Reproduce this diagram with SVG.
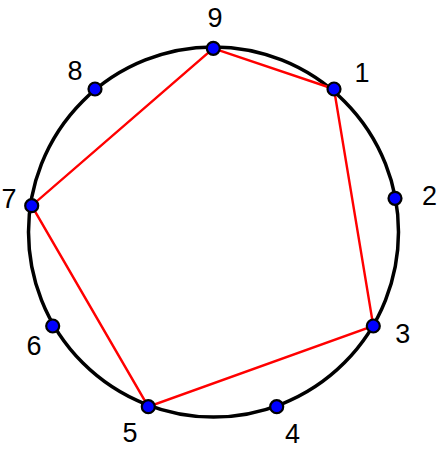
<svg xmlns="http://www.w3.org/2000/svg" width="438" height="452" viewBox="0 0 438 452">
<style>
.ring{fill:none;stroke:#000;stroke-width:3.5}
.edge{fill:none;stroke:#f00;stroke-width:2.4}
.dot{fill:#00f;stroke:#000;stroke-width:2.2}
.lbl{font-family:"Liberation Sans",Arial,sans-serif;font-size:27px;fill:#000;text-anchor:middle}
</style>
<rect width="438" height="452" fill="#fff"/>
<circle class="ring" cx="213.5" cy="232" r="185"/>
<g id="connectors">
<polygon class="edge" points="213.3,48.3 334,89 373.3,326 148.3,406.7 31.7,205.7"/>
</g>
<g id="n9"><circle class="dot" cx="213.3" cy="48.3" r="6.5"/><text class="lbl" x="215" y="27">9</text></g>
<g id="n1"><circle class="dot" cx="334" cy="89" r="6.5"/><text class="lbl" x="362" y="82">1</text></g>
<g id="n2"><circle class="dot" cx="395" cy="198.3" r="6.5"/><text class="lbl" x="429.5" y="205">2</text></g>
<g id="n3"><circle class="dot" cx="373.3" cy="326" r="6.5"/><text class="lbl" x="402.7" y="343">3</text></g>
<g id="n4"><circle class="dot" cx="276.7" cy="406.7" r="6.5"/><text class="lbl" x="292.5" y="443">4</text></g>
<g id="n5"><circle class="dot" cx="148.3" cy="406.7" r="6.5"/><text class="lbl" x="130" y="442">5</text></g>
<g id="n6"><circle class="dot" cx="52.7" cy="326" r="6.5"/><text class="lbl" x="34" y="355">6</text></g>
<g id="n7"><circle class="dot" cx="31.7" cy="205.7" r="6.5"/><text class="lbl" x="9" y="208">7</text></g>
<g id="n8"><circle class="dot" cx="95" cy="89" r="6.5"/><text class="lbl" x="75" y="80">8</text></g>
</svg>
